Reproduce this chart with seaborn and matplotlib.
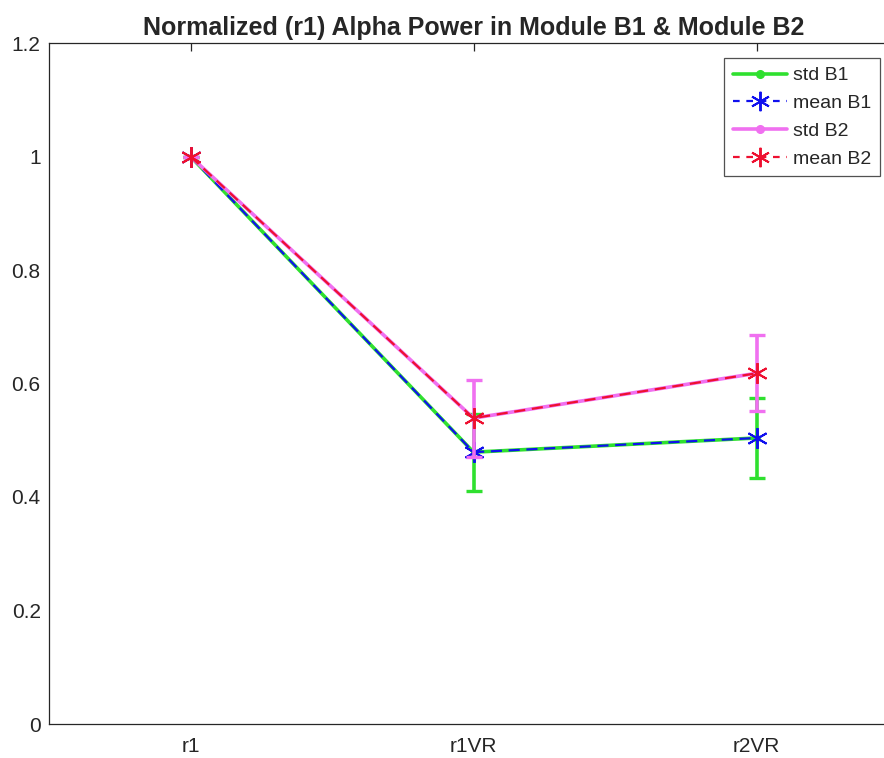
import matplotlib
matplotlib.use("Agg")
import matplotlib.pyplot as plt
import seaborn as sns
import pandas as pd
from matplotlib.lines import Line2D

sns.set_style("white")
plt.rcParams["font.family"] = ["Liberation Sans", "DejaVu Sans"]

conditions = ["r1", "r1VR", "r2VR"]
mean_b1 = [1.0, 0.479, 0.504]
std_b1 = [0.0, 0.068, 0.070]
mean_b2 = [1.0, 0.539, 0.618]
std_b2 = [0.0, 0.068, 0.067]

green = "#2fe02f"
blue = "#1010ee"
magenta = "#f070f0"
red = "#ee1030"

df = pd.DataFrame({
    "condition": conditions * 2,
    "mean": mean_b1 + mean_b2,
    "module": ["B1"] * 3 + ["B2"] * 3,
})

fig = plt.figure(figsize=(8.84, 7.58), dpi=100)
ax = fig.add_axes([49 / 884, 34 / 758, 849 / 884, 681 / 758])

xpos = list(range(len(conditions)))
star = (6, 2, 0)

# Module B1: std error bars with solid line, then dashed mean line
ax.errorbar(xpos, mean_b1, yerr=std_b1, color=green, lw=2.6, capsize=6,
            capthick=2.4, marker=".", ms=8, zorder=2)
sns.lineplot(data=df[df.module == "B1"], x="condition", y="mean", ax=ax,
             color=blue, lw=1.6, dashes=False, linestyle=(0, (5, 3)),
             marker=star, ms=15, mew=1.4, mec=blue, zorder=3, sort=False)

# Module B2
ax.errorbar(xpos, mean_b2, yerr=std_b2, color=magenta, lw=2.6, capsize=6,
            capthick=2.4, marker=".", ms=8, zorder=4)
sns.lineplot(data=df[df.module == "B2"], x="condition", y="mean", ax=ax,
             color=red, lw=1.6, dashes=False, linestyle=(0, (5, 3)),
             marker=star, ms=15, mew=1.4, mec=red, zorder=5, sort=False)

ax.set_xlim(-0.5, 2.5)
ax.set_ylim(0, 1.2)
ax.set_xticks(xpos)
ax.set_xticklabels(conditions)
ax.set_yticks([0, 0.2, 0.4, 0.6, 0.8, 1.0, 1.2])
ax.set_yticklabels(["0", "0.2", "0.4", "0.6", "0.8", "1", "1.2"])
ax.set_xlabel("")
ax.set_ylabel("")
ax.tick_params(axis="both", direction="in", length=6, width=0.9,
               labelsize=15, colors="#262626", top=True)
ax.tick_params(axis="y", pad=6)
ax.tick_params(axis="x", pad=9)
for side in ["left", "bottom", "top", "right"]:
    ax.spines[side].set_color("#262626")
    ax.spines[side].set_linewidth(0.9)

ax.set_title("Normalized (r1) Alpha Power in Module B1 & Module B2",
             fontsize=18, fontweight="bold", pad=6)

handles = [
    Line2D([], [], color=green, lw=2.6, marker=".", ms=11),
    Line2D([], [], color=blue, lw=1.6, linestyle=(0, (3, 3)),
           marker=star, ms=14, mec=blue, mew=1.4),
    Line2D([], [], color=magenta, lw=2.6, marker=".", ms=11),
    Line2D([], [], color=red, lw=1.6, linestyle=(0, (3, 3)),
           marker=star, ms=14, mec=red, mew=1.4),
]
labels = ["std B1", "mean B1", "std B2", "mean B2"]
leg = fig.legend(handles, labels, loc="upper right",
                 bbox_to_anchor=(880 / 884, 1 - 58 / 758),
                 fontsize=14, frameon=True, fancybox=False,
                 edgecolor="#262626", handlelength=2.8, handletextpad=0.3,
                 borderpad=0.45, labelspacing=0.52, borderaxespad=0)
leg.get_frame().set_linewidth(0.9)

fig.savefig("out.png", dpi=100)
